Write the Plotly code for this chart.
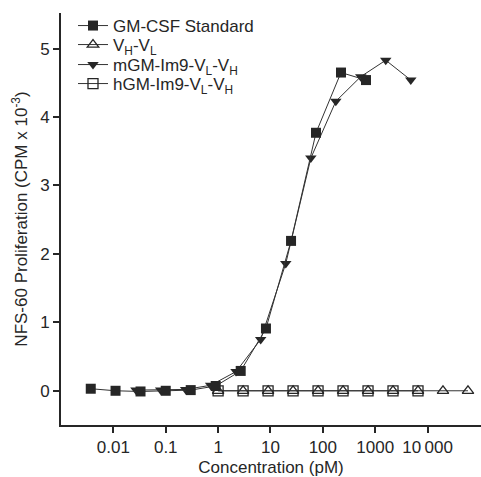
import plotly.graph_objects as go

# GM-CSF Standard (filled squares)
std_x = [0.0037, 0.011, 0.033, 0.1, 0.3, 0.9, 2.7, 8.2, 24.7, 74, 222, 667]
std_y = [0.03, 0.0, -0.01, 0.0, 0.01, 0.07, 0.29, 0.91, 2.19, 3.77, 4.65, 4.54]

# mGM-Im9-VL-VH (filled down triangles)
mgm_x = [0.027, 0.08, 0.24, 0.72, 2.2, 6.5, 19.6, 59, 177, 530, 1590, 4780]
mgm_y = [0.01, 0.01, 0.02, 0.08, 0.28, 0.75, 1.86, 3.40, 4.23, 4.59, 4.83, 4.54]

# VH-VL (open triangles)
vhvl_x = [1, 3, 9, 27, 81, 243, 729, 2187, 6561, 19683, 59049]
vhvl_y = [0, 0, 0, 0, 0, 0, 0, 0, 0, 0, 0]

# hGM-Im9-VL-VH (open squares)
hgm_x = [1, 3, 9, 27, 81, 243, 729, 2187, 6561]
hgm_y = [0, 0, 0, 0, 0, 0, 0, 0, 0]

x_tickvals = [0.01, 0.1, 1, 10, 100, 1000, 10000]
x_ticktext = ["0.01", "0.1", "1", "10", "100", "1000", "10\u2009000"]
y_tickvals = [0, 1, 2, 3, 4, 5]

ink = "#262626"
line = dict(color="#333333", width=1)
FS = 17

fig = go.Figure()
fig.add_trace(go.Scatter(x=vhvl_x, y=vhvl_y, mode="lines+markers", name="V<sub>H</sub>-V<sub>L</sub>",
                         line=line, legend="legend2",
                         marker=dict(symbol="triangle-up-open", size=10, color=ink, line=dict(width=1.3))))
fig.add_trace(go.Scatter(x=hgm_x, y=hgm_y, mode="lines+markers", name="hGM-Im9-V<sub>L</sub>-V<sub>H</sub>",
                         line=line, legend="legend4",
                         marker=dict(symbol="square-open", size=10, color=ink, line=dict(width=1.3))))
fig.add_trace(go.Scatter(x=mgm_x, y=mgm_y, mode="lines+markers", name="mGM-Im9-V<sub>L</sub>-V<sub>H</sub>",
                         line=line, legend="legend3",
                         marker=dict(symbol="triangle-down", size=10, color=ink)))
fig.add_trace(go.Scatter(x=std_x, y=std_y, mode="lines+markers", name="GM-CSF Standard",
                         line=line, legend="legend",
                         marker=dict(symbol="square", size=10, color=ink)))

# plot area: left 61, right 481, top 13, bottom 425 (px)
def leg(ypx):
    return dict(x=(73 - 61) / 420, y=(425 - ypx) / 412, xanchor="left", yanchor="middle",
                bgcolor="rgba(0,0,0,0)", font=dict(size=FS, color=ink), itemwidth=30,
                borderwidth=0)

fig.update_layout(
    width=481, height=477,
    margin=dict(l=61, r=0, t=13, b=52),
    paper_bgcolor="white", plot_bgcolor="white",
    font=dict(family="Liberation Sans, Arial, sans-serif", size=FS, color=ink),
    legend=leg(26), legend2=leg(45), legend3=leg(65), legend4=leg(84),
    showlegend=True,
)
fig.update_xaxes(type="log", range=[-3, 5.02], tickvals=x_tickvals, ticktext=x_ticktext,
                 ticks="outside", ticklen=6, tickwidth=1.5, tickcolor=ink,
                 showline=True, linecolor=ink, linewidth=2, showgrid=False, zeroline=False,
                 tickfont=dict(size=FS),
                 title=dict(text="Concentration (pM)", font=dict(size=FS), standoff=6))
fig.update_yaxes(range=[-0.5, 5.52], tickvals=y_tickvals,
                 ticks="outside", ticklen=6, tickwidth=1.5, tickcolor=ink,
                 showline=True, linecolor=ink, linewidth=2, showgrid=False, zeroline=False,
                 tickfont=dict(size=FS),
                 title=dict(text="NFS-60 Proliferation (CPM x 10<sup>-3</sup>)", font=dict(size=FS), standoff=8))

fig.write_html("out.html", config={"displayModeBar": False},
               post_script="document.body.style.margin='0';document.body.style.padding='0';")
